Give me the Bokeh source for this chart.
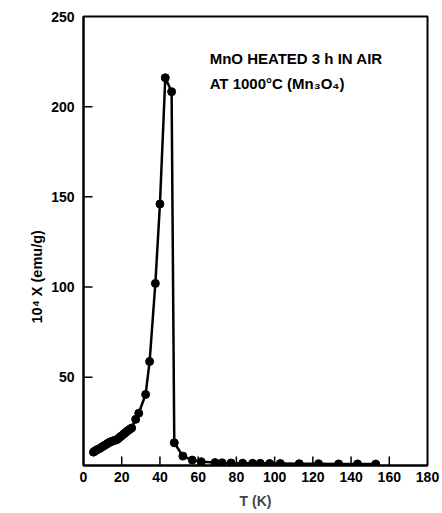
import math
from bokeh.plotting import figure
from bokeh.models import FixedTicker, Label, Range1d, Title
from bokeh.embed import file_html
from bokeh.resources import INLINE

# Temperature (K) and susceptibility 10^4 chi (emu/g)
temp_K = [5.2, 6.0, 6.8, 7.6, 8.7, 9.6, 10.5, 11.4, 12.2, 13.0, 13.9, 14.8,
          15.7, 16.5, 17.4, 18.3, 19.1, 20.0, 20.9, 21.7, 22.6, 23.5, 24.4,
          25.2, 27.3, 28.9, 32.5, 34.6, 37.6, 40.0, 42.8, 46.1, 47.5, 52.0,
          56.9, 61.6, 68.8, 72.5, 77.2, 83.3, 88.5, 92.5, 97.4, 103.0,
          112.9, 123.0, 133.5, 143.4, 152.9]
chi = [8.4, 9.0, 9.6, 10.0, 10.5, 11.2, 11.8, 12.4, 12.9, 13.5, 14.0, 14.4,
       14.7, 15.0, 15.3, 16.0, 16.8, 17.5, 18.3, 19.0, 19.8, 20.5, 21.2,
       21.8, 26.6, 30.0, 40.4, 58.7, 102.0, 146.0, 216.0, 208.3, 13.6, 6.2,
       4.0, 3.1, 2.6, 2.5, 2.4, 2.3, 2.2, 2.2, 2.1, 2.1,
       2.0, 2.0, 1.9, 1.9, 1.8]

x_ticks = [0, 20, 40, 60, 80, 100, 120, 140, 160, 180]
y_ticks = [50, 100, 150, 200, 250]

FONT = "Liberation Sans"
x_lo, x_hi = 0, 180
y_lo, y_hi = 1, 250

p = figure(width=442, height=513, output_backend="svg", toolbar_location=None,
           x_range=Range1d(x_lo, x_hi), y_range=Range1d(y_lo, y_hi),
           min_border_left=83, min_border_right=15, min_border_top=16,
           min_border_bottom=48)
p.frame_width = 344
p.frame_height = 449
p.background_fill_color = None
p.border_fill_color = "white"
p.grid.visible = False
p.outline_line_color = "black"
p.outline_line_width = 2

for ax, ticks in ((p.xaxis, x_ticks), (p.yaxis, y_ticks)):
    ax.ticker = FixedTicker(ticks=ticks)
    ax.major_tick_in = 0
    ax.major_tick_out = 0
    ax.minor_tick_line_color = None
    ax.axis_line_width = 2
    ax.major_label_text_font = FONT
    ax.major_label_text_font_style = "bold"
    ax.major_label_text_font_size = "14px"
    ax.major_label_text_color = "black"

p.xaxis.major_label_standoff = 6
p.yaxis.major_label_standoff = 9
p.xaxis.axis_label = "T (K)"
p.xaxis.axis_label_text_font = FONT
p.xaxis.axis_label_text_font_style = "bold"
p.xaxis.axis_label_text_font_size = "14px"
p.xaxis.axis_label_standoff = 8

ytitle = Title(text="10\u2074 X (emu/g)", align="left", offset=142,
               text_font=FONT, text_font_style="bold", text_font_size="14.5px",
               text_color="black", standoff=8)
p.add_layout(ytitle, "left")

# inward tick marks (interior ticks only)
xt_in = [t for t in x_ticks if x_lo < t < x_hi]
yt_in = [t for t in y_ticks if y_lo < t < y_hi]
p.ray(x=xt_in, y=[y_lo] * len(xt_in), length=9, length_units="screen",
      angle=math.pi / 2, line_color="black", line_width=1.5)
p.ray(x=[x_lo] * len(yt_in), y=yt_in, length=9, length_units="screen",
      angle=0, line_color="black", line_width=1.5)

p.line(temp_K, chi, line_color="black", line_width=2.5)
p.scatter(temp_K, chi, size=8, fill_color="black", line_color="black")

for yy, txt in ((226.5, "MnO HEATED 3 h IN AIR"),
                (213.0, "AT 1000\u00b0C (Mn\u2083O\u2084)")):
    p.add_layout(Label(x=66, y=yy, text=txt, text_align="left",
                       text_baseline="middle", text_font=FONT,
                       text_font_style="bold", text_font_size="15px",
                       text_color="black"))

open("out.html", "w").write(file_html(p, INLINE))
